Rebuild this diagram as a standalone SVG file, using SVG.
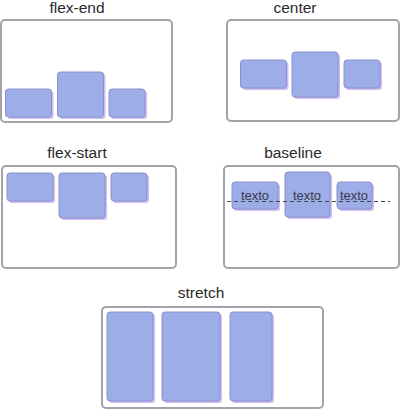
<svg xmlns="http://www.w3.org/2000/svg" width="400" height="410" viewBox="0 0 400 410">
<style>
.title{font-family:"Liberation Sans",Arial,sans-serif;font-size:15.5px;fill:#2a2a2a;text-anchor:middle}
.cont{fill:#fff;stroke:#a2a2aa;stroke-width:2}
.item{fill:#9dade8;stroke:#8a90cc;stroke-width:1}
.sh{fill:#cdbdf2}
.t{font-family:"Liberation Sans",Arial,sans-serif;font-size:13px;fill:#3a3a4a;text-anchor:middle}
</style>
<rect width="400" height="410" fill="#fff"/>
<g id="flex-end">
<text class="title" x="77" y="13">flex-end</text>
<rect class="cont" x="1" y="20" width="171" height="102" rx="4"/>
<rect class="sh" x="7.5" y="91" width="46" height="28" rx="3"/>
<rect class="item" x="5.5" y="89" width="46" height="28" rx="3"/>
<rect class="sh" x="59.5" y="74" width="46" height="45" rx="3"/>
<rect class="item" x="57.5" y="72" width="46" height="45" rx="3"/>
<rect class="sh" x="111" y="91" width="36" height="28" rx="3"/>
<rect class="item" x="109" y="89" width="36" height="28" rx="3"/>
</g>
<g id="center">
<text class="title" x="295" y="13">center</text>
<rect class="cont" x="227" y="20" width="172" height="101" rx="4"/>
<rect class="sh" x="242.5" y="62" width="46" height="28" rx="3"/>
<rect class="item" x="240.5" y="60" width="46" height="28" rx="3"/>
<rect class="sh" x="294" y="54" width="46" height="45" rx="3"/>
<rect class="item" x="292" y="52" width="46" height="45" rx="3"/>
<rect class="sh" x="346" y="62" width="36" height="28" rx="3"/>
<rect class="item" x="344" y="60" width="36" height="28" rx="3"/>
</g>
<g id="flex-start">
<text class="title" x="77" y="158">flex-start</text>
<rect class="cont" x="2" y="166" width="174" height="102" rx="4"/>
<rect class="sh" x="9" y="175" width="46" height="28" rx="3"/>
<rect class="item" x="7" y="173" width="46" height="28" rx="3"/>
<rect class="sh" x="61" y="175" width="46" height="45" rx="3"/>
<rect class="item" x="59" y="173" width="46" height="45" rx="3"/>
<rect class="sh" x="113" y="175" width="36" height="28" rx="3"/>
<rect class="item" x="111" y="173" width="36" height="28" rx="3"/>
</g>
<g id="baseline">
<text class="title" x="293" y="158">baseline</text>
<rect class="cont" x="224" y="166" width="175" height="102" rx="4"/>
<rect class="sh" x="234" y="184" width="46" height="27" rx="3"/>
<rect class="item" x="232" y="182" width="46" height="27" rx="3"/>
<rect class="sh" x="287" y="174" width="45" height="45" rx="3"/>
<rect class="item" x="285" y="172" width="45" height="45" rx="3"/>
<rect class="sh" x="339" y="184" width="35" height="27" rx="3"/>
<rect class="item" x="337" y="182" width="35" height="27" rx="3"/>
<text class="t" x="255" y="200">texto</text>
<text class="t" x="307" y="200">texto</text>
<text class="t" x="354" y="200">texto</text>
<line x1="227" y1="201.5" x2="390" y2="201.5" stroke="#444" stroke-width="1" stroke-dasharray="4,3"/>
</g>
<g id="stretch">
<text class="title" x="201" y="298">stretch</text>
<rect class="cont" x="102" y="307" width="221" height="101" rx="4"/>
<rect class="sh" x="109" y="314" width="46" height="89" rx="3"/>
<rect class="item" x="107" y="312" width="46" height="89" rx="3"/>
<rect class="sh" x="164" y="314" width="58" height="89" rx="3"/>
<rect class="item" x="162" y="312" width="58" height="89" rx="3"/>
<rect class="sh" x="232" y="314" width="42" height="89" rx="3"/>
<rect class="item" x="230" y="312" width="42" height="89" rx="3"/>
</g>
<g id="connectors"></g>
</svg>
